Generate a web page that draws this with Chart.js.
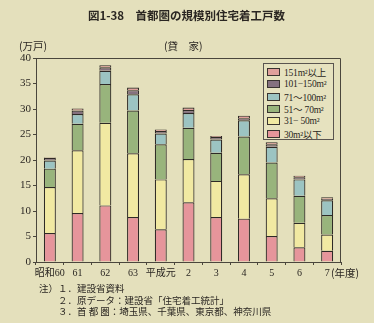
<!DOCTYPE html>
<html>
<head>
<meta charset="utf-8">
<script src="https://cdn.jsdelivr.net/npm/chart.js@4/dist/chart.umd.min.js"></script>
<style>
  html, body { margin: 0; padding: 0; }
  body { width: 374px; height: 323px; background: #e4e0bc; position: relative; overflow: hidden;
         font-family: 'Liberation Serif', 'Noto Sans CJK JP', serif; color: #2a2622; }
  #wrap { position: absolute; left: 0; top: 0; width: 374px; height: 323px; }
  .t { position: absolute; white-space: nowrap; }
  #title { left: 88px; top: 7px; font-family: 'Noto Sans CJK JP', sans-serif; font-weight: bold; font-size: 11.5px; }
  #unit { left: 19px; top: 38px; font-size: 10.5px; font-family: 'Noto Sans CJK JP', serif; }
  #sub { left: 164px; top: 38px; font-size: 10.5px; font-family: 'Noto Sans CJK JP', serif; }
  #nendo { left: 331px; top: 265px; font-size: 10.5px; font-family: 'Noto Sans CJK JP', serif; }
  .note { font-size: 9.5px; font-family: 'Noto Sans CJK JP', serif; }
  #legend { position: absolute; left: 263px; top: 63px; width: 71px; height: 77px;
            border: 1px solid #5a5550; background: #e6e2bf; box-sizing: border-box; padding-top: 2px; }
  .row { height: 12.3px; display: flex; align-items: center; font-size: 9.5px; white-space: nowrap;
         font-family: 'Liberation Serif', 'Noto Sans CJK JP', serif; letter-spacing: -0.2px; }
  .sw { width: 11px; height: 6px; border: 1px solid #3a3430; margin-left: 3px; margin-right: 4px; flex: none; }
</style>
</head>
<body>
<div id="wrap"><canvas id="chart" width="374" height="323"></canvas></div>
<div class="t" id="title">図1-38　首都圏の規模別住宅着工戸数</div>
<div class="t" id="unit">(万戸)</div>
<div class="t" id="sub">(貸　家)</div>
<div class="t" id="nendo">(年度)</div>
<div class="t note" style="left:39px; top:281px;">注）１．建設省資料</div>
<div class="t note" style="left:58px; top:293px;">２．原データ：建設省「住宅着工統計」</div>
<div class="t note" style="left:58px; top:304px;">３．首 都 圏：埼玉県、千葉県、東京都、神奈川県</div>
<div id="legend"></div>
<script>
const categories = ['昭和60', '61', '62', '63', '平成元', '2', '3', '4', '5', '6', '7'];
const seriesNames = ['30m²以下', '31− 50m²', '51～ 70m²', '71～100m²', '101−150m²', '151m²以上'];
const under30 = [5.7, 9.6, 11.1, 8.8, 6.4, 11.7, 8.8, 8.5, 5.1, 2.9, 2.2];
const m31to50 = [9.0, 12.3, 16.2, 12.5, 9.8, 8.5, 7.1, 8.7, 7.4, 4.8, 3.2];
const m51to70 = [3.6, 5.2, 7.6, 8.4, 6.9, 6.1, 5.5, 7.4, 7.0, 5.3, 3.8];
const m71to100 = [1.6, 1.9, 2.6, 3.2, 2.1, 2.9, 2.6, 3.2, 3.1, 3.2, 2.9];
const m101to150 = [0.5, 0.7, 0.7, 0.8, 0.5, 0.6, 0.5, 0.4, 0.5, 0.4, 0.3];
const over151 = [0.1, 0.4, 0.4, 0.5, 0.3, 0.5, 0.2, 0.5, 0.4, 0.3, 0.3];
const yTicks = [0, 5, 10, 15, 20, 25, 30, 35, 40];

const colors = ['#e6959b', '#f1e9a2', '#98b47c', '#9cc4c2', '#85717f', '#e0a09c'];
const values = [under30, m31to50, m51to70, m71to100, m101to150, over151];

const frame = {
  id: 'frame',
  afterDraw(chart) {
    const a = chart.chartArea, ctx = chart.ctx;
    ctx.save();
    ctx.strokeStyle = '#4a463c';
    ctx.lineWidth = 1;
    ctx.beginPath();
    ctx.moveTo(a.left, a.top + 0.5);
    ctx.lineTo(a.right - 0.5, a.top + 0.5);
    ctx.lineTo(a.right - 0.5, a.bottom);
    ctx.stroke();
    ctx.restore();
  }
};

const chart = new Chart(document.getElementById('chart'), {
  type: 'bar',
  data: {
    labels: categories,
    datasets: values.map((v, i) => ({
      label: seriesNames[i],
      data: v,
      backgroundColor: colors[i],
      borderColor: '#2e2a26',
      borderWidth: 1.2,
      barPercentage: 0.9,
      categoryPercentage: 0.48
    }))
  },
  options: {
    responsive: false,
    animation: false,
    layout: { padding: { left: 1, top: 58, right: 33, bottom: 41 } },
    plugins: { legend: { display: false }, tooltip: { enabled: false } },
    scales: {
      x: {
        stacked: true,
        border: { color: '#4a463c', width: 1 },
        grid: { offset: true, drawOnChartArea: false, tickLength: 3, color: '#4a463c' },
        ticks: { color: '#2a2622', font: { family: "'Liberation Serif', 'Noto Sans CJK JP'", size: 10 }, padding: 2, maxRotation: 0, autoSkip: false },
        afterFit(scale) { scale.height = 20; }
      },
      y: {
        stacked: true,
        min: 0,
        max: 40,
        border: { color: '#4a463c', width: 1 },
        grid: { drawOnChartArea: false, tickLength: 3, color: '#4a463c' },
        afterBuildTicks(scale) { scale.ticks = yTicks.map(v => ({ value: v })); },
        ticks: { color: '#2a2622', font: { family: "'Liberation Serif', serif", size: 11 }, padding: 2 },
        afterFit(scale) { scale.width = 35; }
      }
    }
  },
  plugins: [frame]
});

// legend, top entry first
const legendEl = document.getElementById('legend');
for (let i = seriesNames.length - 1; i >= 0; i--) {
  const row = document.createElement('div');
  row.className = 'row';
  row.innerHTML = `<span class="sw" style="background:${colors[i]}"></span><span>${seriesNames[i]}</span>`;
  legendEl.appendChild(row);
}
</script>
</body>
</html>
